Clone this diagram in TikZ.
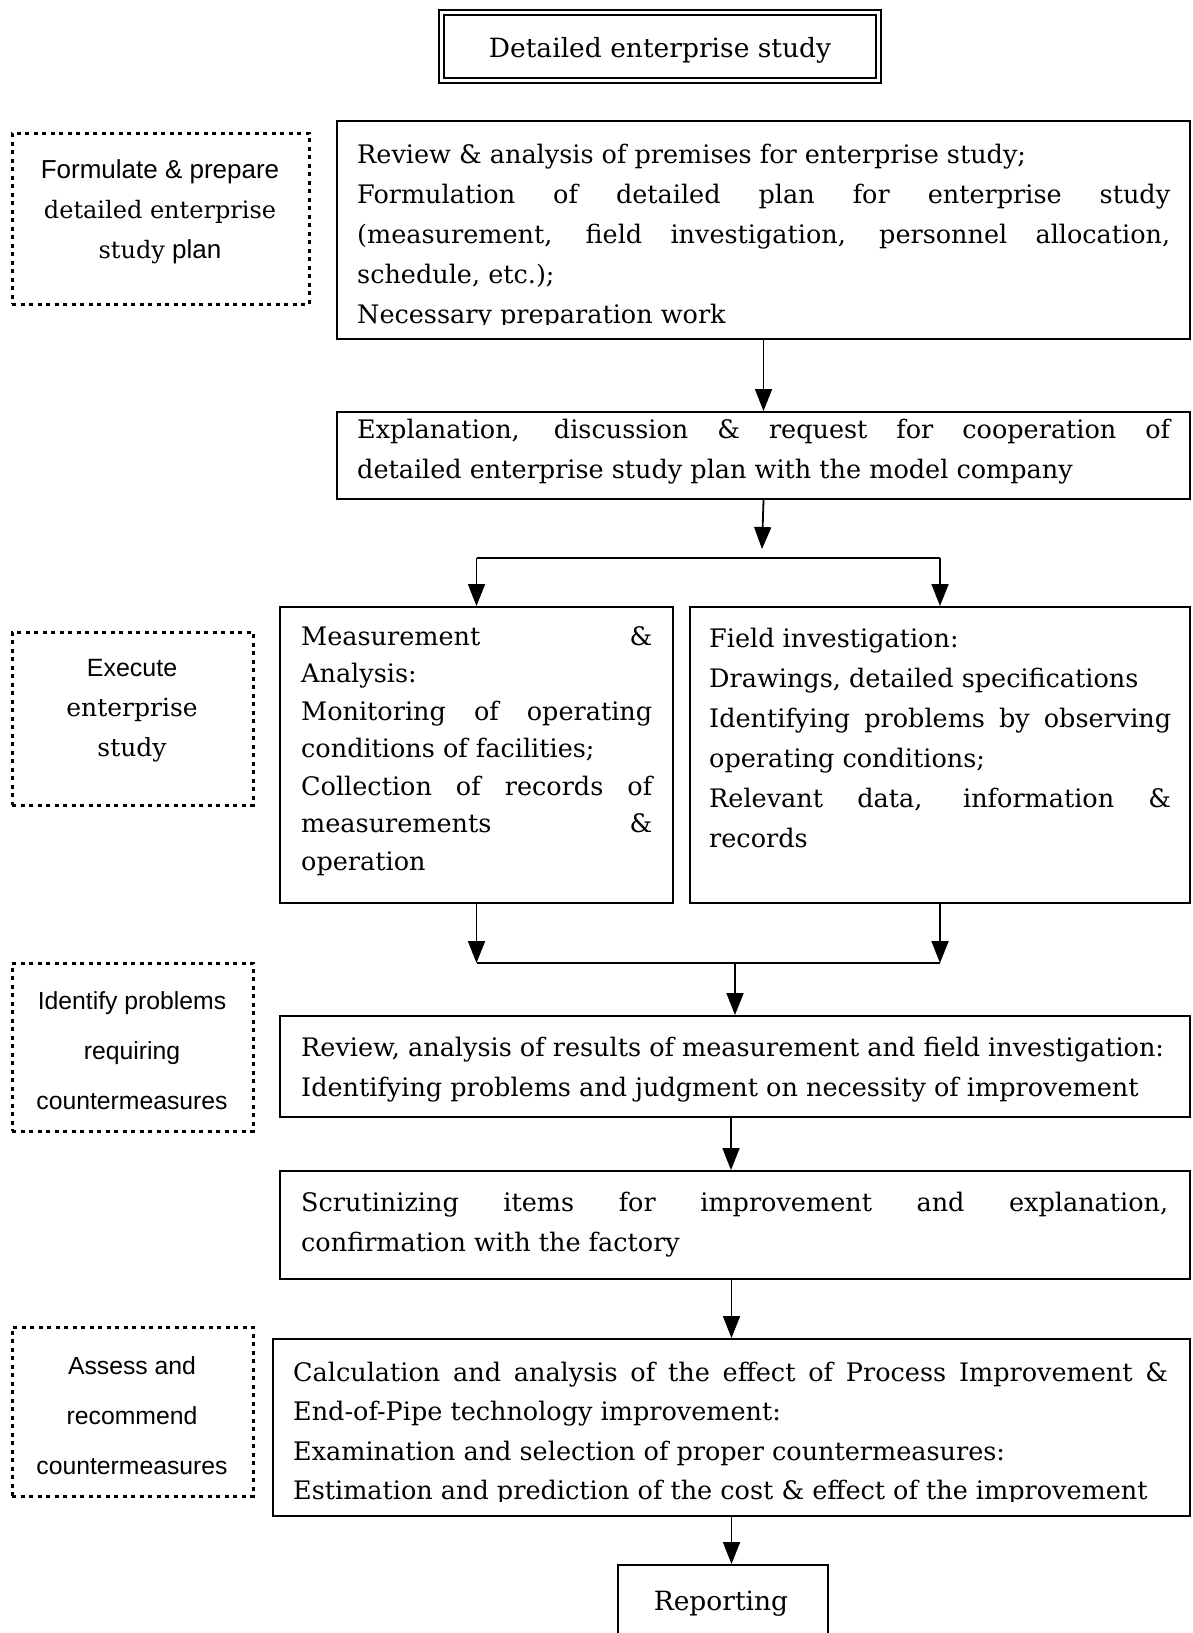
\documentclass[tikz,border=0pt]{standalone}
\usepackage{fontspec}
\setmainfont{DejaVu Serif}
\newfontfamily\labelsans{Liberation Sans}
\usetikzlibrary{arrows.meta,calc}

% a line of text stretched to the full width of its paragraph
\newcommand{\jl}[1]{\makebox[\linewidth][s]{#1}}

\begin{document}
\begin{tikzpicture}[x=1pt,y=-1pt,
  box/.style={draw, line width=2pt, inner sep=0pt, anchor=north west},
  notebox/.style={draw, line width=3pt, dash pattern=on 4pt off 4.5pt, inner sep=0pt},
  txt/.style={anchor=base west, inner sep=0pt, font=\fontsize{25.5}{40}\selectfont},
  side/.style={inner sep=0pt, align=center, font=\fontsize{25}{40}\selectfont\labelsans},
  link/.style={line width=1.8pt},
  arr/.style={line width=1.8pt, -{Triangle[length=22pt,width=17pt]}},
]
\clip (0,0) rectangle (1192,1633);
\fill[white] (0,0) rectangle (1192,1633);

% heading
\node[draw, line width=2pt, double, double distance=3pt, minimum width=437pt,
      minimum height=68pt, inner sep=0pt] (title) at (659.5,46.5) {};
\node[inner sep=0pt, font=\fontsize{26.5}{30}\selectfont] (titletext) at (660,50)
  {Detailed enterprise study};

% planning stage
\node[box, minimum width=853pt, minimum height=218pt] (plan) at (336,120) {};
\begin{scope}
  \clip (336,120) rectangle (1189,324);
  \node[txt] (plantext) at (357,163) {\parbox[t]{813pt}{%
    Review \& analysis of premises for enterprise study;\\
    \jl{Formulation of detailed plan for enterprise study}\\
    \jl{(measurement, field investigation, personnel allocation,}\\
    schedule, etc.);\\
    Necessary preparation work}};
\end{scope}

\node[box, minimum width=853pt, minimum height=87pt] (expl) at (336,411) {};
\node[txt] (expltext) at (357,438) {\parbox[t]{813pt}{%
  \jl{Explanation, discussion \& request for cooperation of}\\
  detailed enterprise study plan with the model company}};

% execution stage
\node[box, minimum width=393pt, minimum height=296pt] (meas) at (279,606) {};
\node[txt, font=\fontsize{25.5}{37.5}\selectfont] (meastext) at (301,645) {\parbox[t]{351pt}{%
  \jl{Measurement \hfill \&}\\
  Analysis:\\
  \jl{Monitoring of operating}\\
  conditions of facilities;\\
  \jl{Collection of records of}\\
  \jl{measurements \hfill \&}\\
  operation}};

\node[box, minimum width=500pt, minimum height=296pt] (field) at (689,606) {};
\node[txt] (fieldtext) at (709,647) {\parbox[t]{462pt}{%
  Field investigation:\\
  Drawings, detailed specifications\\
  \jl{Identifying problems by observing}\\
  operating conditions;\\
  \jl{Relevant data, information \&}\\
  records}};

% problem identification
\node[box, minimum width=910pt, minimum height=101pt] (rev) at (279,1015) {};
\node[txt] (revtext) at (301,1056) {\parbox[t]{880pt}{%
  Review, analysis of results of measurement and field investigation:\\
  Identifying problems and judgment on necessity of improvement}};

\node[box, minimum width=910pt, minimum height=108pt] (scr) at (279,1170) {};
\node[txt] (scrtext) at (301,1211) {\parbox[t]{867pt}{%
  \jl{Scrutinizing items for improvement and explanation,}\\
  confirmation with the factory}};

% assessment
\node[box, minimum width=917pt, minimum height=177pt] (calc) at (272,1338) {};
\begin{scope}
  \clip (272,1338) rectangle (1189,1501);
  \node[txt, font=\fontsize{25.5}{39.5}\selectfont] (calctext) at (293,1381) {\parbox[t]{880pt}{%
    \makebox[875pt][s]{Calculation and analysis of the effect of Process Improvement \&}\\
    End-of-Pipe technology improvement:\\
    Examination and selection of proper countermeasures:\\
    Estimation and prediction of the cost \& effect of the improvement}};
\end{scope}

\node[box, minimum width=210pt, minimum height=90pt] (rep) at (617,1564) {};
\node[inner sep=0pt, font=\fontsize{26.5}{30}\selectfont] (reptext) at (721,1604) {Reporting};

% stage labels
\node[notebox, minimum width=297pt, minimum height=171pt] (s1) at (160.5,218.5) {};
\node[side, font=\fontsize{26}{40}\selectfont\labelsans] (s1text) at (160,212) {Formulate \& prepare\\
  {\rmfamily\fontsize{24}{40}\selectfont detailed enterprise}\\
  {\rmfamily\fontsize{24}{40}\selectfont study} plan};

\node[notebox, minimum width=241pt, minimum height=173pt] (s2) at (132.5,718.5) {};
\node[side] (s2text) at (132,710.5) {Execute\\
  {\rmfamily\fontsize{25}{40}\selectfont enterprise}\\
  {\rmfamily\fontsize{25}{40}\selectfont study}};

\node[notebox, minimum width=241pt, minimum height=168pt] (s3) at (132.5,1047) {};
\node[side, font=\fontsize{24.75}{50}\selectfont\labelsans] (s3text) at (132,1051) {Identify problems\\
  requiring\\ countermeasures};

\node[notebox, minimum width=241pt, minimum height=169pt] (s4) at (132.5,1411.5) {};
\node[side, font=\fontsize{24.75}{50}\selectfont\labelsans] (s4text) at (132,1416) {Assess and\\
  recommend\\ countermeasures};

% connectors
\draw[arr] (plan.south) -- (expl.north);
\coordinate (split) at (762,558);
\draw[arr] (expl.south) -- ([yshift=9pt]split);
\draw[link] (meas.north |- split) -- (field.north |- split);
\draw[arr] (meas.north |- split) -- (meas.north);
\draw[arr] (field.north |- split) -- (field.north);

\coordinate (join) at (733,963);
\draw[arr] (meas.south) -- (meas.south |- join);
\draw[arr] (field.south) -- (field.south |- join);
\draw[link] (meas.south |- join) -- (field.south |- join);
\draw[arr] (rev.north |- join) -- (rev.north);

\draw[arr] ([xshift=-4pt]rev.south) -- ([xshift=-4pt]scr.north);
\draw[arr] (calc.north |- scr.south) -- (calc.north);
\draw[arr] (calc.south) -- (calc.south |- rep.north);
\end{tikzpicture}
\end{document}
